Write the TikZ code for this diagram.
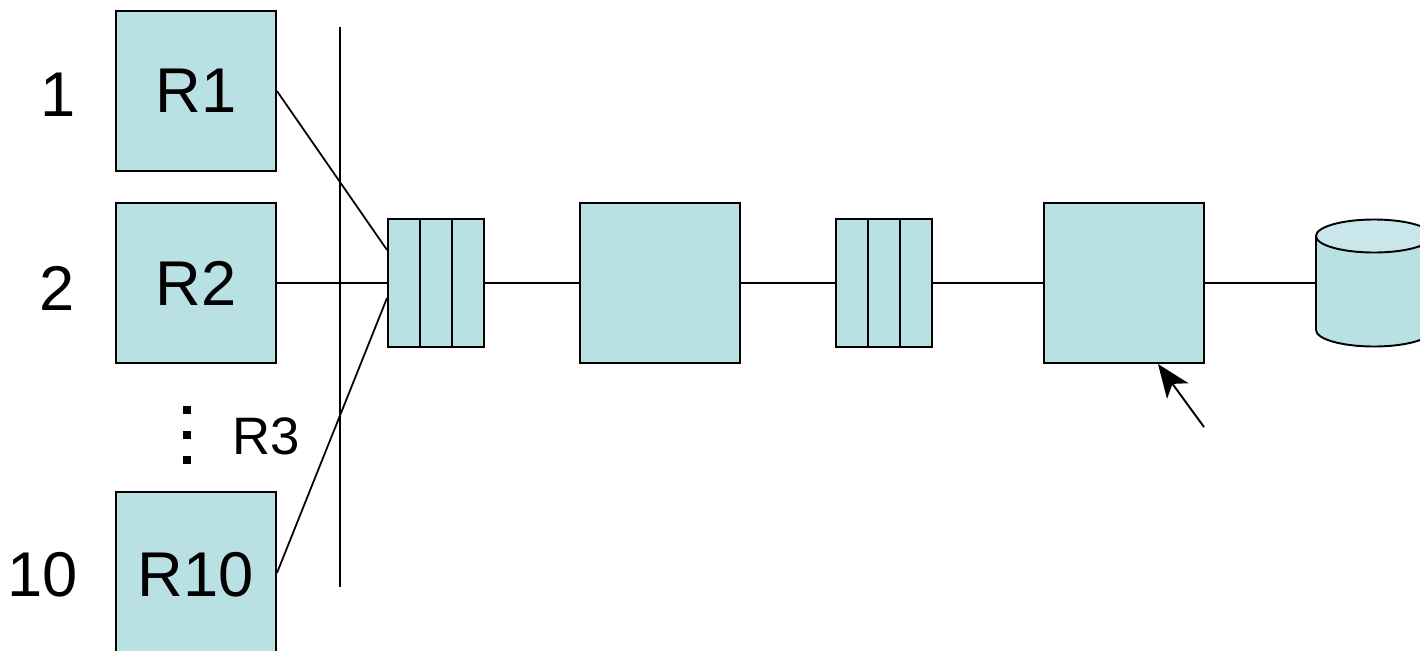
\documentclass[tikz,border=0pt]{standalone}
\usepackage{fontspec}
\setmainfont{Liberation Sans}
\usetikzlibrary{arrows.meta,shapes.geometric}
\definecolor{boxfill}{HTML}{B9E0E3}
\definecolor{topfill}{HTML}{C9E7EA}
\tikzset{
  x=0.02cm,y=-0.02cm,
  box/.style={draw=black,line width=1.1pt,fill=boxfill,minimum width=3.2cm,minimum height=3.2cm,inner sep=0pt,font=\fontsize{36}{40}\selectfont},
  cell/.style={draw=black,line width=1.1pt,fill=boxfill,minimum width=0.64cm,minimum height=2.56cm,inner sep=0pt},
  lab/.style={font=\fontsize{36}{40}\selectfont,inner sep=0pt},
  conn/.style={line width=1pt},
}
\begin{document}
\begin{tikzpicture}
\useasboundingbox (0,0) rectangle (1420,650);
\clip (0,0) rectangle (1420,650);
\fill[white] (0,0) rectangle (1420,650);
% source boxes
\node[box] (r1) at (196,91) {R1};
\node[box] (r2) at (196,283) {R2};
\node[box,anchor=north] (r10) at (196,491) {};
\node[lab] (r10t) at (196,575) {R10};
\node[lab] (n1) at (58,95) {1};
\node[lab] (n2) at (57,288) {2};
\node[lab] (n10) at (43,575) {10};
\node[font=\fontsize{30}{34}\selectfont,inner sep=0pt] (r3) at (266,436) {R3};
\foreach \yy in {410,435,460}{\fill (183,\yy-4) rectangle (191,\yy+4);}
% vertical line
\coordinate (vt) at (340,27);
\coordinate (vb) at (340,587);
\draw[conn] (vt) -- (vb);
% queue 1
\node[cell] (q1a) at (404,283) {};
\node[cell] (q1b) at (436,283) {};
\node[cell] (q1c) at (468,283) {};
% box 2
\node[box] (b2) at (660,283) {};
% queue 2
\node[cell] (q2a) at (852,283) {};
\node[cell] (q2b) at (884,283) {};
\node[cell] (q2c) at (916,283) {};
% box 4
\node[box] (b4) at (1124,283) {};
% cylinder
\coordinate (cyl) at (1374,283);
\filldraw[line width=1.1pt,fill=boxfill] (1316,236) -- (1316,330) arc[start angle=180,end angle=0,x radius=58,y radius=16.5] -- (1432,236) -- cycle;
\filldraw[line width=1.1pt,fill=topfill] (1374,236) ellipse[x radius=58,y radius=16.5];
% connectors
\draw[conn] (r1.east) -- (q1a.west |- 0,250);
\draw[conn] (r2.east) -- (q1a.west);
\draw[conn] (r10.east |- 0,573) -- (q1a.west |- 0,298);
\draw[conn] (q1c.east) -- (b2.west);
\draw[conn] (b2.east) -- (q2a.west);
\draw[conn] (q2c.east) -- (b4.west);
\draw[conn] (b4.east) -- (1316,283);
% arrow
\coordinate (atail) at (1204,427);
\coordinate (ahead) at (1158,364);
\draw[line width=1.1pt,-{Stealth[length=19pt,width=15pt,inset=5pt]}] (atail) -- (ahead);
\end{tikzpicture}
\end{document}
